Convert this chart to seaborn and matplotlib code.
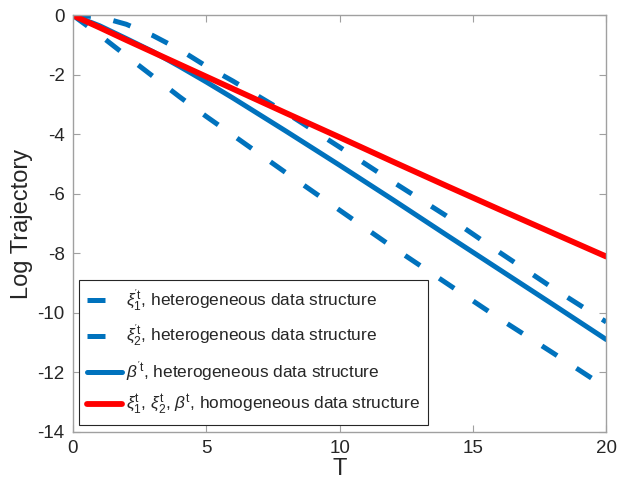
import matplotlib
matplotlib.use('Agg')
import matplotlib.pyplot as plt
import pandas as pd
import seaborn as sns

T = [0, 1, 2, 3, 4, 5, 6, 8, 10, 12, 14, 16, 18, 20]
xi1_het = [0, -0.05, -0.30, -0.68, -1.15, -1.71, -2.21, -3.28, -4.43, -5.60, -6.74, -7.97, -9.17, -10.31]
xi2_het = [0, -0.66, -1.36, -2.05, -2.74, -3.40, -4.03, -5.30, -6.55, -7.80, -9.00, -10.20, -11.35, -12.52]
beta_het = [0, -0.35, -0.78, -1.22, -1.72, -2.24, -2.78, -3.90, -5.04, -6.20, -7.38, -8.55, -9.72, -10.90]
homog = [0, -0.41, -0.83, -1.24, -1.65, -2.06, -2.47, -3.29, -4.10, -4.92, -5.73, -6.53, -7.32, -8.11]

labels = [r"$\xi_1^{\mathrm{'t}}$, heterogeneous data structure",
          r"$\xi_2^{\mathrm{'t}}$, heterogeneous data structure",
          r"$\beta^{\mathrm{'t}}$, heterogeneous data structure",
          r"$\xi_1^{\mathrm{t}}$, $\xi_2^{\mathrm{t}}$, $\beta^{\mathrm{t}}$, homogeneous data structure"]

BLUE = '#0072BD'
RED = '#FF0000'

sns.set_style('white')
plt.rcParams['font.family'] = ['Liberation Sans', 'DejaVu Sans']
plt.rcParams['mathtext.fontset'] = 'custom'
plt.rcParams['mathtext.rm'] = 'Liberation Sans'
plt.rcParams['mathtext.it'] = 'Liberation Sans:italic'
plt.rcParams['axes.unicode_minus'] = False

df = pd.DataFrame({'T': T})

fig = plt.figure(figsize=(6.18, 4.87), dpi=100)
ax = fig.add_axes([0.118, 0.1135, 0.863, 0.855])

sns.lineplot(ax=ax, x=df['T'], y=xi1_het, color=BLUE, lw=3.6, label=labels[0], dashes=(3.6, 4.6))
sns.lineplot(ax=ax, x=df['T'], y=xi2_het, color=BLUE, lw=3.6, label=labels[1], dashes=(3.6, 4.6))
sns.lineplot(ax=ax, x=df['T'], y=beta_het, color=BLUE, lw=3.6, label=labels[2])
sns.lineplot(ax=ax, x=df['T'], y=homog, color=RED, lw=4.2, label=labels[3])

ax.set_xlim(0, 20)
ax.set_ylim(-14, 0)
ax.set_xticks([0, 5, 10, 15, 20])
ax.set_yticks([0, -2, -4, -6, -8, -10, -12, -14])
ax.set_xlabel('T', fontsize=17, color='#262626', labelpad=1)
ax.set_ylabel('Log Trajectory', fontsize=17, color='#262626', labelpad=3)
ax.tick_params(direction='in', length=5, width=0.8, color='#a0a0a0', labelsize=13.5,
               labelcolor='#262626', top=True, right=True, bottom=True, left=True, pad=6)
for s in ax.spines.values():
    s.set_color('#a0a0a0')
    s.set_linewidth(1.0)

leg = ax.legend(loc='lower left', bbox_to_anchor=(0.012, 0.016), fontsize=12.4, frameon=True,
                fancybox=False, framealpha=1, edgecolor='#262626', handlelength=2.0,
                handletextpad=0.25, borderpad=0.45, labelspacing=0.62, borderaxespad=0)
leg.get_frame().set_linewidth(0.8)

fig.savefig('out.png', dpi=100)
